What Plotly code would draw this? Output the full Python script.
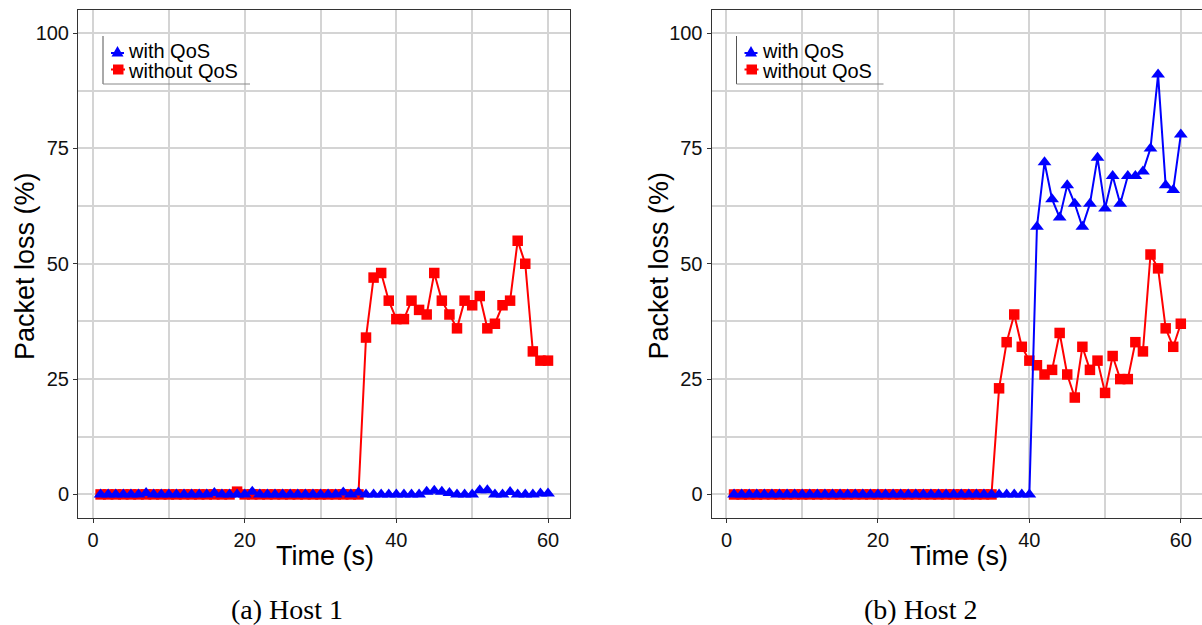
import plotly.graph_objects as go

# ---------------- data ----------------
time_s = list(range(1, 61))

host1_with_qos = [0, 0, 0, 0, 0, 0, 0.3, 0, 0, 0,
                  0, 0, 0, 0, 0, 0.3, 0, 0, 0, 0,
                  0.6, 0, 0, 0, 0, 0, 0, 0, 0, 0,
                  0, 0, 0.4, 0, 0.4, 0, 0, 0, 0, 0,
                  0, 0, 0, 0.6, 0.8, 0.6, 0.3, 0, 0, 0,
                  0.9, 0.9, 0, 0, 0.5, 0, 0, 0, 0.2, 0.2]
host1_without_qos = [0] * 18 + [0.6] + [0] * 16 + [
    34, 47, 48, 42, 38, 38, 42, 40, 39, 48,
    42, 39, 36, 42, 41, 43, 36, 37, 41, 42,
    55, 50, 31, 29, 29]

host2_with_qos = [0] * 40 + [
    58, 72, 64, 60, 67, 63, 58, 63, 73, 62,
    69, 63, 69, 69, 70, 75, 91, 67, 66, 78]
host2_without_qos = [0] * 35 + [
    23, 33, 39, 32, 29, 28, 26, 27, 35, 26,
    21, 32, 27, 29, 22, 30, 25, 25, 33, 31,
    52, 49, 36, 32, 37]

series_names = ["with QoS", "without QoS"]
x_ticks = [0, 20, 40, 60]
y_ticks = [0, 25, 50, 75, 100]
captions = ["(a) Host 1", "(b) Host 2"]
x_title = "Time (s)"
y_title = "Packet loss (%)"

# ---------------- styling helpers ----------------
W, H = 1202, 625
BLUE = "#0000FF"
RED = "#FF0000"
GRID = "#d4d4d4"
AX = "#333333"
SANS = "Liberation Sans, Arial, sans-serif"
SERIF = "Liberation Serif, Times New Roman, serif"


def px(x):
    return x / W


def py(y):
    return 1 - y / H


fig = go.Figure()

panels = [
    ("x", "y", host1_with_qos, host1_without_qos),
    ("x2", "y2", host2_with_qos, host2_without_qos),
]
for xa, ya, with_q, without_q in panels:
    fig.add_trace(go.Scatter(
        x=time_s, y=without_q, xaxis=xa, yaxis=ya, mode="lines+markers",
        name=series_names[1], showlegend=False,
        line=dict(color=RED, width=2),
        marker=dict(symbol="square", size=10.5, color=RED)))
    fig.add_trace(go.Scatter(
        x=time_s, y=with_q, xaxis=xa, yaxis=ya, mode="lines+markers",
        name=series_names[0], showlegend=False,
        line=dict(color=BLUE, width=2),
        marker=dict(symbol="triangle-up", size=12, color=BLUE)))


def xaxis_cfg(domain, rng):
    return dict(domain=domain, range=rng, tickvals=x_ticks,
                showline=True, linecolor=AX, linewidth=1, mirror=True,
                ticks="outside", ticklen=4, tickcolor=AX, tickwidth=1,
                showgrid=True, gridcolor=GRID, gridwidth=1.5, zeroline=False,
                minor=dict(dtick=10, tick0=0, showgrid=True, gridcolor=GRID,
                           gridwidth=1.5, ticks=""),
                tickfont=dict(family=SANS, size=20, color="#111"))


def yaxis_cfg(anchor, mirror):
    return dict(domain=[py(517.5), py(10)], range=[-5, 105], tickvals=y_ticks,
                anchor=anchor,
                showline=True, linecolor=AX, linewidth=1, mirror=mirror,
                ticks="outside", ticklen=4, tickcolor=AX, tickwidth=1,
                showgrid=True, gridcolor=GRID, gridwidth=1.5, zeroline=False,
                minor=dict(dtick=12.5, tick0=0, showgrid=True, gridcolor=GRID,
                           gridwidth=1.5, ticks=""),
                tickfont=dict(family=SANS, size=20, color="#111"))


xa1 = xaxis_cfg([px(78), px(570)], [-1.98, 62.9])
xa1["anchor"] = "y"
xa2 = xaxis_cfg([px(711.5), 1.0], [-1.98, 62.8])
xa2["anchor"] = "y2"

annotations = []
shapes = []
for i, off in enumerate([0, 633.5]):
    # axis titles
    annotations.append(dict(text=x_title, x=px(325 + off), y=py(556),
                            xref="paper", yref="paper", showarrow=False,
                            xanchor="center", yanchor="middle",
                            font=dict(family=SANS, size=27, color="#000")))
    annotations.append(dict(text=y_title, x=px(25 + off), y=py(266),
                            xref="paper", yref="paper", showarrow=False,
                            textangle=-90, xanchor="center", yanchor="middle",
                            font=dict(family=SANS, size=27, color="#000")))
    # caption
    annotations.append(dict(text=captions[i], x=px(287 + off), y=py(609),
                            xref="paper", yref="paper", showarrow=False,
                            xanchor="center", yanchor="middle",
                            font=dict(family=SERIF, size=28, color="#000")))
    # legend text
    annotations.append(dict(text=series_names[0], x=px(126 + off), y=py(51),
                            xref="paper", yref="paper", showarrow=False,
                            xanchor="left", yanchor="middle",
                            font=dict(family=SANS, size=20, color="#000")))
    annotations.append(dict(text=series_names[1], x=px(126 + off), y=py(70.5),
                            xref="paper", yref="paper", showarrow=False,
                            xanchor="left", yanchor="middle",
                            font=dict(family=SANS, size=20, color="#000")))
    # legend frame (left and bottom edges)
    shapes.append(dict(type="line", xref="paper", yref="paper",
                       x0=px(103 + off), x1=px(103 + off), y0=py(36), y1=py(84),
                       line=dict(color="#555", width=1)))
    shapes.append(dict(type="line", xref="paper", yref="paper",
                       x0=px(103 + off), x1=px(250 + off), y0=py(84), y1=py(84),
                       line=dict(color="#888", width=1)))
    # legend keys
    shapes.append(dict(type="line", xref="paper", yref="paper",
                       x0=px(111 + off), x1=px(124 + off), y0=py(53), y1=py(53),
                       line=dict(color=BLUE, width=2)))
    shapes.append(dict(type="path", xref="paper", yref="paper",
                       path=f"M {px(111.5 + off)},{py(56.5)} L {px(123.5 + off)},{py(56.5)} "
                            f"L {px(117.5 + off)},{py(46)} Z",
                       fillcolor=BLUE, line=dict(color=BLUE, width=0)))
    shapes.append(dict(type="line", xref="paper", yref="paper",
                       x0=px(111 + off), x1=px(125 + off), y0=py(69.5), y1=py(69.5),
                       line=dict(color=RED, width=2)))
    shapes.append(dict(type="rect", xref="paper", yref="paper",
                       x0=px(113 + off), x1=px(123.5 + off), y0=py(74.5), y1=py(64.5),
                       fillcolor=RED, line=dict(color=RED, width=0)))

fig.update_layout(
    width=W, height=H,
    margin=dict(l=0, r=0, t=0, b=0),
    paper_bgcolor="white", plot_bgcolor="white",
    xaxis=xa1, yaxis=yaxis_cfg("x", True),
    xaxis2=xa2, yaxis2=yaxis_cfg("x2", False),
    annotations=annotations, shapes=shapes,
    showlegend=False,
)

fig.write_html("out.html")
